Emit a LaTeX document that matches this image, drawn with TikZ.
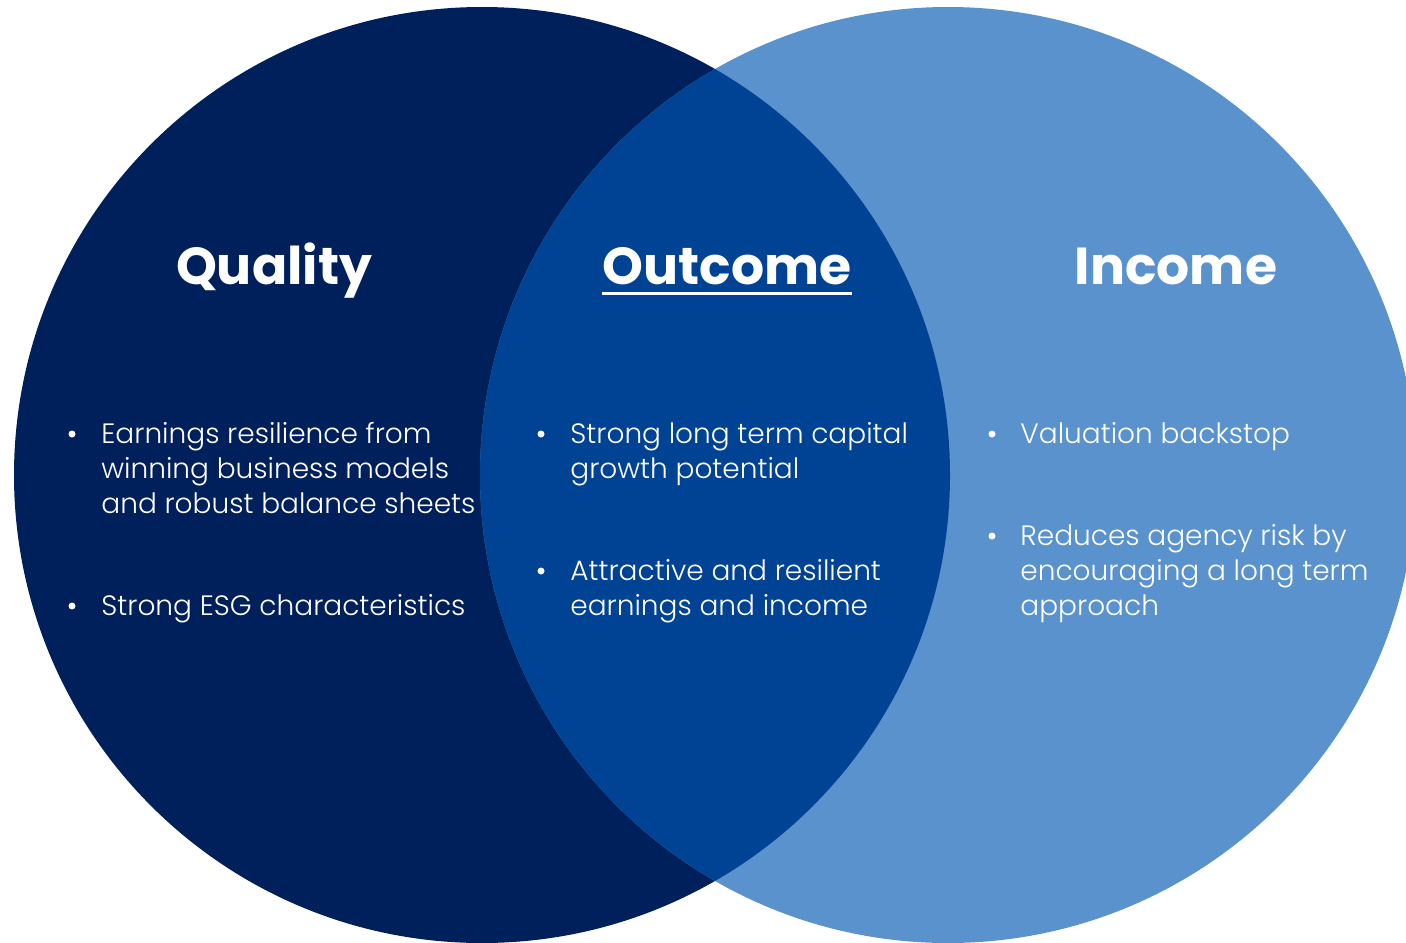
\documentclass[tikz,border=0pt]{standalone}
\usepackage{fontspec}
\setmainfont{Poppins}[UprightFont=* Light,BoldFont=* Bold]
\usetikzlibrary{positioning}
\definecolor{qualityblue}{HTML}{00205B}
\definecolor{outcomeblue}{HTML}{004294}
\definecolor{incomeblue}{HTML}{5A92CE}
\newcommand\lines[1]{\begin{tabular}[t]{@{}l@{}}#1\end{tabular}}
\tikzset{
  heading/.style={text=white,font=\bfseries\fontsize{26}{32}\selectfont,anchor=base,inner sep=0pt},
  point/.style={text=white,font=\fontsize{14}{17.5}\selectfont,anchor=base west,inner sep=0pt},
  dot/.style={circle,fill=white,inner sep=0pt,minimum size=3.5pt},
}

\begin{document}
\begin{tikzpicture}[x=0.5pt,y=-0.5pt]
  \newcommand\R{468}
  \useasboundingbox (0,0) rectangle (1406,942);

  % circles
  \fill[qualityblue] (482,475) circle[radius=\R];
  \fill[incomeblue] (948,475) circle[radius=\R];
  \begin{scope}
    \clip (482,475) circle[radius=\R];
    \fill[outcomeblue] (948,475) circle[radius=\R];
  \end{scope}

  % headings
  \node[heading] (quality) at (274,284) {Quality};
  \node[heading] (outcome) at (727,284) {Outcome};
  \node[heading] (income) at (1176,284) {Income};
  \draw[white,line width=1.5pt] ([yshift=-4.5pt]outcome.base west) -- ([yshift=-4.5pt]outcome.base east);

  % quality points
  \node[point] (q1) at (101,443) {\lines{Earnings resilience from\\winning business models\\and robust balance sheets}};
  \node[point] (q2) at (101,615) {Strong ESG characteristics};
  \node[dot] (qd1) at (72,434) {};
  \node[dot] (qd2) at (72,606) {};

  % outcome points
  \node[point] (o1) at (570,443) {\lines{Strong long term capital\\growth potential}};
  \node[point] (o2) at (570,580) {\lines{Attractive and resilient\\earnings and income}};
  \node[dot] (od1) at (541,434) {};
  \node[dot] (od2) at (541,571) {};

  % income points
  \node[point] (i1) at (1020,443) {Valuation backstop};
  \node[point] (i2) at (1020,545) {\lines{Reduces agency risk by\\encouraging a long term\\approach}};
  \node[dot] (id1) at (992,434) {};
  \node[dot] (id2) at (992,536) {};
\end{tikzpicture}
\end{document}
